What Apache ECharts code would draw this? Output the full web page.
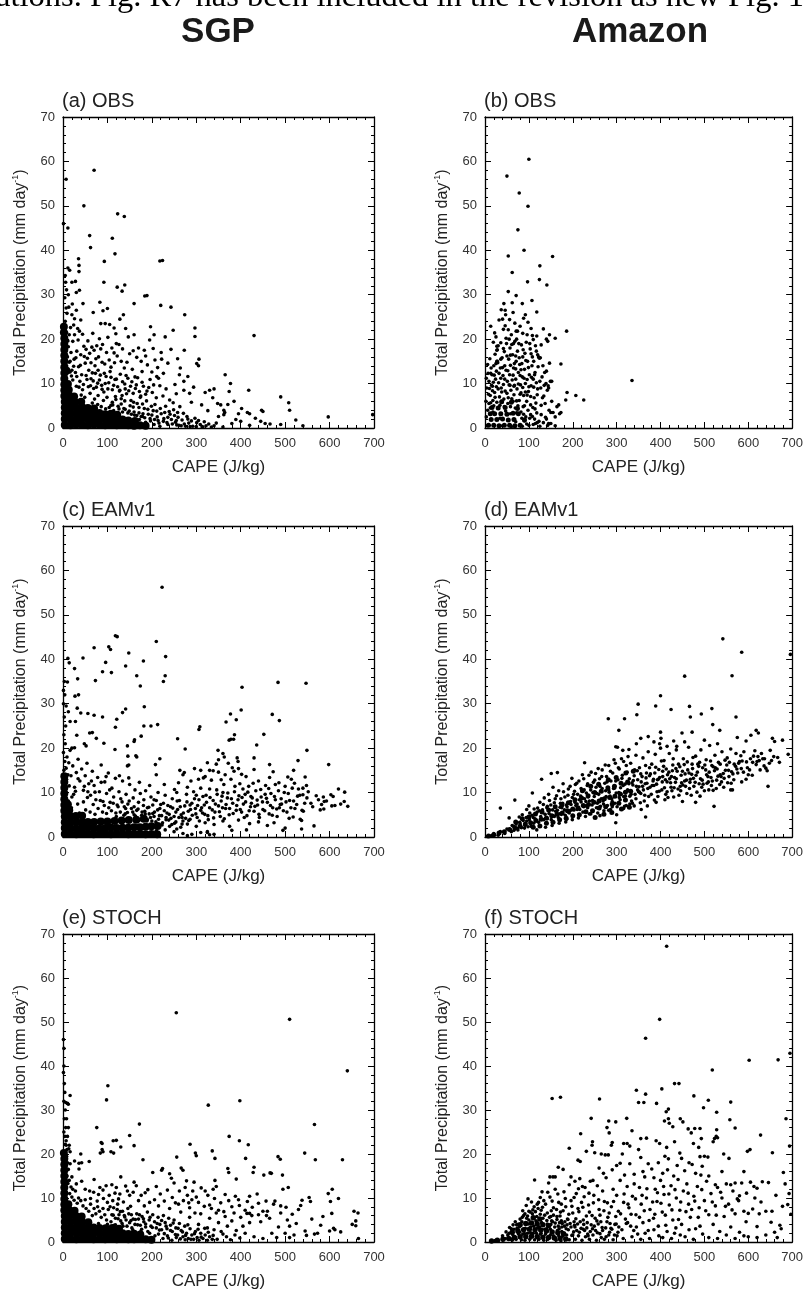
<!DOCTYPE html>
<html>
<head>
<meta charset="utf-8">
<script src="https://cdn.jsdelivr.net/npm/echarts@6.0.0/dist/echarts.min.js"></script>
<style>
  html, body { margin: 0; padding: 0; background: #fff; }
  #chart { width: 806px; height: 1291px; }
</style>
</head>
<body>
<div id="chart"></div>
<script>
// axis ranges shared by all six panels
const capeRange = [0, 700];
const precipRange = [0, 70];
const panelTitles = ["(a) OBS", "(b) OBS", "(c) EAMv1", "(d) EAMv1", "(e) STOCH", "(f) STOCH"];
const columnTitles = ["SGP", "Amazon"];

// (a) SGP OBS — "core" marks the spots where the cloud is solid black
const sgpObsCore = [
  [4,0.7],[17,0.6],[30,0.8],[43,0.7],[56,0.6],[69,0.8],[82,0.7],[95,0.6],[108,0.7],[121,0.6],[134,0.7],[147,0.6],[160,0.5],[173,0.6],[186,0.5],
  [4,2],[17,2.1],[30,1.9],[43,2.1],[56,2],[69,1.9],[82,2.1],[95,1.9],[108,2],[121,1.8],[134,1.9],[147,1.7],[162,1.6],
  [4,3.3],[17,3.4],[30,3.2],[43,3.4],[56,3.3],[69,3.2],[82,3.4],[95,3.1],[108,3.2],[122,3],
  [4,4.6],[17,4.7],[30,4.5],[43,4.7],[56,4.5],[70,4.4],
  [4,5.9],[16,6],[28,5.8],[41,5.9],[3,7.2],[14,7.3],[25,7.1],[3,8.5],[13,8.6],[3,9.8],[11,9.9],
  [3,11.1],[3,12.4],[8,12.9],[3,13.7],[3,15],[3,16.3],[3,17.6],[3,18.9],[3,20.2],[2,21.5],[2,22.8]
];
const sgpObsPts = [
  [70,58],[47,50],[7,56],[11,45],[1,46],[123,48.2],[138,47.6],[60,43.3],[62,40.6],[111,42.7],[117,39.2],[93,37.5],[218,37.6],[224,37.7],
  [35,38.1],[36,36.6],[36,35.2],[11,36],[15,35.5],[6,32.8],[20,32.8],[28,33],[37,31],[30,30.5],[12,30],[92,32.8],[122,31.7],[133,30.8],[139,32.2],
  [184,29.7],[189,29.8],[160,28],[83,28.3],[45,28],[220,27.6],[243,27.2],[274,25.5],[68,26],[90,26.4],[100,26.9],[136,25.5],[128,24.5],[30,26.5],[20,25.5],[40,24.3],
  [297,22.5],[297,20.6],[248,22],[230,20.5],[197,22.8],[205,21],[160,21],[147,20.5],[430,20.8],[85,23.5],[95,23.5],[105,23.3],[115,22.5],[120,19],
  [273,17.5],[243,17.7],[221,17],[222,15.5],[306,15.5],[301,14.5],[305,14],[264,13.5],[262,12],[365,12],[377,10],[374,8.2],[272,10.5],[272,8.5],
  [320,8],[330,8.5],[340,8.8],[418,8.5],[285,7.8],[385,6],[348,5.5],[355,5.2],[490,7],[508,5.7],[510,4],[362,4],[364,3.5],[362,3],[415,3.5],[420,3.2],
  [447,4],[450,3.7],[395,3.2],[400,1.5],[445,1.5],[455,1],[597,2.5],[697,3],[490,0.8],[380,1],[340,0.5],[360,0.2],[420,0.6],
  [5,24],[8,21.5],[4,19],[12,18.3],[18,17],[22,19.5],[26,21],[33,22.4],[37,21.8],[10,16],[16,15],[25,15.5],[31,17.3],[40,16.5],[47,18.4],[52,17.7],
  [20,13],[28,12.5],[35,13.8],[42,12],[50,14.6],[55,15.7],[60,16.8],[65,18.2],[70,17.5],[76,18.5],[80,16],[85,17.8],[58,13],[66,12.4],[72,14],[79,13],
  [88,14.8],[93,12.3],[98,17],[104,15.3],[110,18],[116,14.7],[122,16.2],[126,18.8],[131,15],[138,13.5],[144,14.8],[150,16.7],[156,13.2],[162,11.5],
  [170,18],[176,15],[183,17.5],[190,14.2],[195,19.8],[200,12.6],[207,15.3],[213,13.6],[38,10.5],[46,9.8],[54,10.9],[62,9.5],[68,10.6],[75,9.2],
  [82,10.8],[88,8.7],[95,10],[101,8.8],[108,11.4],[114,9.6],[120,11],[128,8.5],[134,10.4],[140,8.8],[146,11.2],[152,9.4],[158,7.8],[165,9.7],
  [172,8.2],[178,10.3],[186,7.6],[193,9.1],[201,8],[210,6.8],[218,9.5],[225,7.2],[232,8.8],[240,6.3],[248,5.7],[255,7.7],[263,4.8],
  [41,7.4],[49,6.9],[61,7.8],[71,6.5],[79,7.3],[91,6.2],[99,6.9],[111,5.8],[119,6.4],[131,5.4],[139,6.1],[151,5],[159,5.8],[171,4.6],[179,5.4],
  [191,4.2],[199,4.9],[211,3.8],[219,4.4],[229,3.5],[241,3.1],[251,2.8],[259,2.4],[271,3.3],[281,2],[289,1.6],[301,1.2],[309,0.8],[322,0.5],
  [86,4.8],[96,4.3],[104,4.6],[114,3.9],[126,4.3],[134,3.6],[146,3.4],[154,3.1],[166,2.8],[176,2.6],[184,2.3],[196,2.1],[206,1.9],[214,1.7],
  [226,1.5],[234,1.2],[246,0.9],[256,0.7],[266,0.5],[276,0.4],[286,0.3],[140,4.2],[160,3.6],[180,3.2],[200,2.9],[172,1.9],[186,1.3],[205,0.8],[218,0.4],
  [236,2.4],[255,1.7],[300,0.3],[315,0.2],[66,5.6],[78,5.3],[108,5.1],[22,10.8],[30,9.4],[16,12.6],[8,14],[6,17.5],[14,21],[24,23.2],[7,27],[4,29.3],
  [112,5.2],[118,7.1],[124,4.9],[131,6.6],[127,8.3],[137,4.4],[143,7.7],[149,3.8],[153,6.2],[158,4.7],[161,2.9],[167,5.5],[171,3.4],[174,6.9],
  [179,2.6],[183,4.4],[188,6.1],[192,3.1],[197,1.6],[203,3.9],[207,5.3],[212,2.5],[216,1.1],[221,3.2],[227,2.1],[231,4.9],[236,0.8],[239,3.7],
  [244,1.9],[249,4.1],[253,1.3],[258,3.5],[261,0.6],[268,1.8],[273,0.9],[279,2.6],[283,1.1],[292,0.4],[297,2.2],[305,1.7],[313,0.3],[318,1.4],
  [328,0.9],[334,0.2],[345,1.1],[44,8.6],[52,11.8],[57,9.3],[63,11.1],[69,8.9],[73,12.3],[78,10.1],[84,11.9],[87,9.6],[92,8.1],[97,11.6],
  [103,10.2],[106,12.7],[111,8.6],[117,10.9],[123,9.3],[129,12.1],[133,7.3],[139,9.9],[142,11.8],[148,8.4],[155,10.4],[163,8.9],[168,11.3],
  [175,7.2],[181,9.4],[189,8.3],[196,10.9],[204,9.7],[211,11.6],[31,11.6],[36,9.2],[24,13.9],[29,15.8],[19,11.7],[14,14.8],[11,19.6],[17,22.6],
  [9,25.8],[21,27.9],[8,31.1],[5,34.3],[13,27.2],[26,24.6],[34,19.8],[44,21.1],[39,14.1],[48,16.1],[56,19.6],[63,14.7],[67,21.3],[74,15.6],
  [82,20.1],[89,18.8],[94,14.4],[101,20.4],[108,13.7],[115,16.9],[119,21.2],[134,17.8],[141,22.4],[158,17.4],[166,15.9],[178,12.7],[186,16.2],
  [203,17.9],[215,11.2],[226,12.3],[236,14.6],[252,9.8],[258,15.6],[281,11.6],[289,5.8],[294,9.2],[312,5.2],[326,3.9],[337,6.8],[350,2.6],
  [371,5.3],[389,1.9],[402,4.4],[433,2.2],[466,0.9],[524,1.8],[540,0.5]
];

// (b) Amazon OBS
const amzObsCore = [
  [8,0.6],[20,0.6],[32,0.5],[44,0.6],[56,0.6],[68,0.5],[80,0.6],[14,1.9],[27,1.9],[40,2],[53,1.8],[66,1.9],[22,3.2],[36,3.2],[50,3.1],[64,3.3],
  [30,4.5],[46,4.6],[12,3.2],[76,3.2],[90,1.8],[60,5.8],[16,4.6],[74,4.4],[38,5.9]
];
const amzObsPts = [
  [100,60.5],[50,56.7],[78,52.9],[98,49.9],[75,44.6],[89,40],[53,38.7],[154,38.6],[62,35],[125,36.5],[124,33.4],[97,32.9],[141,32.2],[53,30.7],[107,28.7],
  [43,28],[62,28.2],[85,28],[46,26.5],[47,25.5],[64,26],[92,25.5],[40,24.5],[98,23.8],[13,22.9],[42,22.2],[46,23],[71,21.8],[74,21.8],[86,21.3],
  [108,20.8],[118,20.7],[140,20],[143,19.5],[147,21],[160,20.2],[186,21.8],[173,14.4],[147,14.6],[335,10.7],[187,8],[207,7.3],[225,6.3],[184,6.3],
  [168,5.2],[173,3.5],[150,3.5],[152,10.5],[145,9],[140,12.8],[122,16],[126,15.8],[113,12],[13,12.3],[17,9.4],[25,20.5],[27,18.4],[27,17.5],[28,15],
  [25,14.5],[164,4.8],[140,2],[145,1],[160,0.5],
  [5,0.5],[3,2.5],[6,4],[2,6],[9,5.5],[12,7.3],[15,9.6],[18,6.2],[22,8],[24,11],[26,12.8],[29,14.7],[31,10.2],[33,7],[35,13.5],[37,9],[39,15.8],
  [41,11.8],[43,6.5],[44,17.2],[46,8.3],[48,13],[49,19],[51,10.5],[53,6.8],[54,15.5],[56,12],[57,18],[59,8.5],[60,21],[62,10.8],[63,16.5],[65,13.5],
  [66,7.5],[68,19.5],[70,11],[71,15],[73,8.8],[74,17.3],[76,12.5],[78,6.2],[79,14.3],[81,9.7],[83,18.7],[85,11.5],[86,16],[88,7.3],[90,13.2],[92,10],
  [94,19.3],[95,6],[97,15],[99,8.2],[101,12],[103,17.8],[105,9.5],[107,14],[110,11],[112,6.8],[115,18.5],[117,10.2],[119,7.5],[121,13.8],[124,15.7],
  [127,9],[130,11.5],[134,7.2],[137,5.5],[142,8.5],[146,4],[155,3.5],[12,4.5],[18,3.6],[27,5.8],[34,2.2],[42,9.8],[47,3.8],[52,5.5],[58,3.2],
  [64,6],[69,4.5],[75,5],[82,3.6],[87,4.8],[93,2.5],[98,4],[104,3],[109,4.6],[113,2],[118,3.4],[123,1.5],[128,3],[133,1.2],[138,2.4],[143,0.6],
  [150,1],[20,14],[16,12],[30,18.5],[36,19.2],[23,16.6],[9,10.5],[14,13.5],[4,9],[7,12.3],[27,15],[28,17.6],[45,14],[50,16.2],[55,20],[61,18.8],
  [67,14.5],[72,20],[77,19],[84,14.5],[91,16.8],[96,21],[102,19],[108,16],[111,15],[114,12.5],[120,16.5],[125,10.5],[132,14],[136,12.5],[139,10],
  [144,9.5],[149,10.5],[152,6],[160,2.5],[170,3.2],[40,0.5],[60,0.3],[85,0.4],[100,0.6],[110,0.8],[125,0.4],[90,1.6],[102,2.2],[115,1],[72,3.4],
  [38,6],[20,5],[58,4.8],[84,2.2],[95,0.9],[70,1.4],[57,9.6],[36,11.2],[44,4.8],[66,9.4],[80,7.6],[90,5],
  [8,7.6],[13,5.7],[17,8.4],[21,11.9],[26,9.3],[32,12.3],[34,5.1],[38,8.1],[40,13.6],[45,11],[50,7.8],[52,12.9],[55,9.7],[58,14.1],[61,6.6],
  [64,11.9],[67,9.6],[70,13.3],[72,6.1],[76,9.9],[80,11.8],[82,7.9],[86,9.1],[89,11.2],[92,8.1],[96,10.9],[100,9.3],[104,7.1],[106,11.4],[111,9.2],
  [116,5.6],[120,8.8],[104,5.2],[96,7.4],[88,3.1],[108,2.6],[114,4.3],[119,1.2],[128,5.1],[131,6.8],[135,9.6],[10,8.9],[19,10.3],[23,6.9],[30,8.8],
  [36,15.5],[42,17.9],[48,20.2],[53,22.1],[58,16.4],[65,19],[70,16.2],[78,15.8],[82,13.1],[87,17.6],[93,15.2],[99,13.6],[105,16.7],[110,19.9],
  [117,17.3],[3,11.2],[6,14.3],[11,15.6],[19,19.3],[22,21.4],[32,24.3],[37,26.6],[56,24.4],[68,23.6],[80,22.9],[88,24.7],[105,22.4],[128,18.7],
  [133,22.3],[118,26.1],[71,29.8]
];

// (c) SGP EAMv1
const sgpEamCore = [
  [4,0.7],[17,0.7],[30,0.6],[43,0.7],[56,0.7],[69,0.6],[82,0.7],[95,0.7],[108,0.6],[121,0.7],[134,0.7],[147,0.6],[160,0.7],[173,0.7],[186,0.6],[199,0.7],[212,0.6],
  [4,2],[17,2],[30,1.9],[43,2],[56,2.1],[69,2],[82,1.9],[95,2],[108,2.1],[121,2],[134,2.1],[147,2.1],[160,2.2],[173,2.2],[186,2.3],[199,2.4],[213,2.5],
  [4,3.3],[17,3.3],[30,3.4],[43,3.3],[56,3.4],[70,3.4],[85,3.5],[100,3.5],[116,3.6],[132,3.7],[148,3.8],[165,3.9],[182,4.1],
  [4,4.6],[16,4.7],[29,4.7],[43,4.8],[3,5.9],[14,6],[3,7.2],[11,7.3],[3,8.5],[3,9.8],[3,11.1],[3,12.4],[3,13.7]
];
const sgpEamPts = [
  [223,56.2],[118,45.3],[122,45.1],[210,44],[70,42.6],[103,42.8],[107,42.2],[148,41.4],[231,40.6],[45,40.3],[11,40.2],[14,39.2],[96,39.3],[181,39.6],
  [26,37.9],[89,37.2],[109,37],[141,38.5],[166,36.3],[230,36.3],[226,35],[73,35.2],[33,35.6],[3,35],[10,34.9],[1,33],[174,34],[403,33.7],[484,34.8],
  [547,34.6],[27,31.7],[35,32],[183,29.3],[401,28.6],[12,28.2],[7,29.5],[32,29],[141,28.8],[134,28],[56,27.8],[70,27.4],[89,27],[40,27.9],[471,27.6],
  [377,27.7],[390,26.4],[487,26.2],[367,25.9],[118,24.7],[121,26.5],[28,26],[16,26],[308,24.8],[306,24.2],[182,25],[198,25],[213,25.3],[60,23.4],
  [66,23.5],[452,23.1],[386,23],[384,22],[31,22.9],[176,22.7],[75,22.2],[258,22.1],[161,21.9],[160,21.5],[374,21.8],[378,22],[92,21.1],[52,20.5],
  [48,21],[436,20.7],[145,20.5],[26,20.1],[20,20],[117,19.7],[275,19.8],[549,19.5],[349,19.5],[360,18.8],[363,18],[146,18.2],[164,18.3],[166,18],
  [218,17.6],[392,17.8],[394,17],[430,17.8],[529,17.2],[350,17.4],[598,16.3],[465,16.3],[208,16.3],[210,14],[145,16],[148,16.2],[325,16.7],[330,15],
  [263,15],[273,14.5],[270,14],[430,15.2],[519,15],[473,14.7],[506,13.5],[514,13],[545,13.5],[296,15.4],[310,15],[586,9],[588,8],[603,9.5],[608,9.1],
  [620,10.8],[633,8],[641,6.9],[612,7.1],[605,7],[587,6.3],[582,7.3],[565,2.5],[537,1.8],[537,3.7],[538,6],[540,9.5],[540,11],[548,11.6],[500,2],
  [495,1.5],[509,4.2],[518,4.5],[489,7.3],[487,6.6],[413,1.6],[380,1.5],[330,0.5],[325,1],
  [2,15],[4,17],[1,19],[5,21],[2,23],[6,25],[3,27],[1,30],[4,32],[7,15.5],[9,18],[11,14],[13,16.7],[16,19.5],[8,13],[14,11.5],[18,13.8],[22,16],
  [20,9],[26,11.2],[30,14.5],[34,17.5],[38,12.6],[42,15.3],[46,10.5],[50,13.8],[54,16.6],[58,12],[62,9.4],[66,14.8],[70,11.6],[74,8.4],[78,13.4],
  [82,10.2],[86,16.2],[90,8],[94,12.4],[98,9.8],[102,14.4],[106,7.8],[110,11],[114,9],[118,13.2],[122,7.2],[126,10.2],[130,8.6],[134,12.6],[138,6.8],
  [142,9.6],[146,7.4],[150,11.8],[154,6.4],[158,8.8],[162,10.6],[166,6],[170,7.8],[174,9.8],[178,5.6],[182,8.4],[186,10.4],[190,6.6],[194,5.2],
  [198,9],[202,7.2],[206,5.6],[210,8.2],[214,10],[218,6.4],[222,4.8],[226,7.6],[230,9.4],[234,5.4],[238,3.8],[242,6.8],[246,8.6],[250,4.6],[254,3.4],
  [258,6.2],[262,8.2],[266,5],[270,3.6],[274,7],[278,9.6],[282,5.8],[286,4],[290,7.6],[294,10.2],[298,6.4],[302,4.4],[306,8.4],[310,11],[314,5.4],
  [318,7.2],[322,9.4],[326,4.8],[330,6.6],[334,12.8],[338,8.2],[342,5.6],[346,10.6],[350,7],[354,4.6],[358,9.2],[362,11.8],[366,6.4],[370,8.8],
  [374,5],[378,13],[382,7.6],[386,10.2],[390,6],[394,8.4],[398,12],[402,5.6],[406,7.4],[410,9.6],[414,4.8],[418,11.4],[422,6.8],[426,8.8],[430,5.8],
  [434,10.4],[438,7.2],[442,4.4],[446,9],[450,6.2],[456,11.6],[460,7.8],[464,5.2],[468,9.8],[472,6.6],[478,8.4],[482,4.6],[486,12.2],[492,7.4],
  [498,10],[504,5.6],[510,8.2],[516,11],[522,6.4],[528,9.2],[534,4],[544,7.6],[552,10.2],[562,6.8],[575,8.4],[120,4.6],[140,5.2],[160,5],[200,3.6],
  [215,4],[245,2.8],[265,2.2],[280,2.9],[300,2.4],[320,3.2],[340,2.8],[360,3.6],[375,2.4],[395,3.8],[420,3],[440,3.4],[460,2.6],[475,3.2],[230,1.6],
  [250,1.2],[270,0.8],[290,0.6],[310,1],[340,0.6],[280,0.3],[325,1.2],[240,2.4],[256,1.8],[176,1.2],[210,1.4],[160,6.8],[185,5.2],[300,9.4],[280,11.2],
  [260,12.2],[320,13.6],[350,14.6],[372,16.6],[395,15.4],[412,13.6],[440,12.6],[465,13.4],[500,11.4],[530,10.8],[360,10],[330,10.8],[286,7.2],
  [256,10],[310,6],[305,13],[345,16.4],[365,14],[385,14.8],[405,10.8],[224,3.2],[190,3.9],[205,4.6],[232,4.4],[268,4.4],
  [152,3.9],[157,5.6],[163,4.7],[169,6.3],[172,3.8],[177,4.9],[181,7.1],[184,5.8],[189,3.6],[193,6.7],[197,4.4],[202,5.3],[205,8.4],[209,3.4],
  [213,6.1],[217,4.8],[220,7.3],[223,2.7],[228,5.9],[232,3.9],[236,7.1],[239,5.1],[243,4.2],[247,6.5],[251,3.1],[254,5.6],[257,8.1],[261,4.4],
  [264,6.8],[268,2.9],[271,5.4],[276,4.2],[279,7.9],[283,3.7],[287,6.2],[291,4.9],[296,8.6],[299,5.2],[303,7.1],[307,3.6],[312,6.6],[315,9.1],
  [319,5.1],[323,7.8],[327,3.9],[331,8.9],[336,6.1],[339,4.3],[343,7.4],[347,9.6],[352,5.7],[356,8.1],[359,6.6],[363,4.1],[367,7.3],[371,9.9],
  [375,6.4],[379,8.6],[383,5.3],[387,11.4],[391,7.1],[396,9.3],[399,6.2],[403,8.9],[408,4.4],[411,7.9],[416,10.1],[419,5.9],[424,7.6],[428,12.1],
  [432,6.9],[437,8.3],[441,5.1],[445,10.7],[449,7.9],[454,5.9],[458,8.7],[463,10.9],[467,7.1],[471,4.9],[476,9.1],[481,6.3],[485,10.4],[491,8.6],
  [496,5.9],[502,7.9],[507,9.8],[513,6.6],[519,8.1],[526,7.3],[533,9.4],[541,5.8],[549,8.8],[558,7.6],[570,9.3],[579,6.1],[593,8.1],[625,7.4],
  [634,10.1],[12,8.1],[19,6.6],[24,9.6],[33,7.4],[37,5.4],[46,7.9],[51,6.1],[55,8.9],[61,5.6],[68,7.3],[72,5.1],[79,6.4],[84,8.2],[89,5.6],[93,7.1],
  [98,5.3],[103,6.6],[109,5.9],[113,7.6],[119,5.4],[124,6.8],[129,5.6],[133,7.9],[137,4.9],[141,6.4],[145,5.5],[149,8.1],[28,10.3],[34,13.1],
  [48,11.4],[56,10.2],[64,12.6],[72,10.1],[86,12.3],[97,13.6],[105,10.6],[127,13.8],[148,13.3],[172,12.3],[195,11.6],[228,11.8],[251,10.7],
  [288,12.6],[316,13.3],[338,14.9],[356,12.9],[381,15.6],[402,14.1],[423,9.1],[455,9.6],[478,11.8],[521,12.1]
];

// (d) Amazon EAMv1 — tight, rising band
const amzEamCore = [
  [8,0.2],[20,0.5],[32,0.9],[44,1.2],[56,1.7],[68,2.1],[80,2.4],[92,2.9],[104,3.2],[116,3.7],[128,4],[140,4.3],[152,4.8],[164,5.1],[176,5.4],
  [188,5.9],[200,6.3],[212,6.6],[224,7.1],[236,7.3],[248,7.8],[260,8.1],[272,8.6],[284,8.9],[296,9.2],[308,9.7],[320,10.1],[332,10.3],
  [70,3.4],[85,4.1],[100,4.5],[115,5.2],[130,5.6],[145,6.1],[160,6.8],[175,7.2],[190,7.7],[205,8.4],[220,8.8],[235,9.3],[250,10],[265,10.3],
  [280,11.1],[295,11.4],[310,12.1],[325,12.4],
  [110,2.2],[125,2.5],[140,3.1],[155,3.3],[170,3.9],[185,4.2],[200,4.8],[215,5],[230,5.7],[245,5.9],[260,6.5],[275,6.8],[290,7.4],[305,7.6],[320,8.3],
  [222,10.4],[241,11.4],[259,11.9],[281,12.9],[299,13.4],[321,14.4],[338,14.8],[251,4.4],[271,5.1],[289,5.5],[311,6.3],[329,6.7]
];
const amzEamPts = [
  [542,44.6],[585,41.6],[696,41.1],[455,36.2],[563,36.3],[400,31.8],[349,29.9],[389,29.5],[466,29.4],[517,28.9],[424,28.7],[493,27.7],[468,27],
  [572,27],[281,26.6],[318,26.6],[346,27.5],[305,24],[519,25.3],[535,24],[449,23.4],[472,23.6],[618,24],[623,23.4],[655,22.2],[678,21.8],[606,22.9],
  [355,22.2],[372,22.6],[401,22.2],[385,21.4],[398,21],[437,20.4],[227,16.7],[151,14.3],[165,14.5],[129,13],[108,9.9],[68,8.3],[35,6.5],[55,4.3],
  [522,6.9],[366,4.5],[645,11.4],[691,18.6],[671,16.8],
  [5,0.1],[15,0.3],[20,0.8],[30,0.4],[35,1.2],[45,0.8],[50,1.8],[60,1.2],[65,2.4],[75,1.6],[80,3],[90,2],[95,3.6],[105,2.4],[110,4.4],[95,6.2],
  [100,7],[85,5],[78,4.5],[120,6.5],[125,7.8],[130,5.5],[135,8.8],[145,9.6],[150,7.2],[155,11.2],[160,8.6],[168,10.4],[172,7.6],[178,12],[182,9],
  [186,4],[190,10.8],[195,8],[198,13.2],[202,9.6],[206,11.8],[210,7.4],[214,12.6],[218,9.2],[222,14],[226,10.6],[230,8],[234,12],[238,5.2],
  [242,14.6],[246,10],[250,12.8],[254,6.6],[258,15.4],[262,11.4],[266,13.6],[270,7.4],[274,16.2],[278,12.4],[282,10.6],[286,14.8],[290,6.8],
  [294,17.4],[298,20.3],[302,20.2],[298,12.6],[304,15.6],[308,8.4],[312,13.2],[314,19.5],[316,17],[320,9.2],[324,14.6],[328,19.7],[328,12],
  [332,16.6],[336,7.6],[340,13.8],[344,18.4],[348,10.6],[352,15.6],[356,12.4],[360,17.8],[364,9.4],[368,14.4],[372,19.2],[376,11.2],[380,16.4],
  [384,13],[388,18.6],[392,10.2],[396,15.2],[400,20],[404,12.4],[408,17.2],[412,9.6],[416,14],[420,18.8],[424,11.2],[428,16.2],[432,13.4],
  [436,19.6],[440,10.8],[444,15.8],[448,12.2],[452,17.6],[456,14.2],[460,9.8],[464,20.2],[468,13],[472,16.4],[476,11.4],[480,18.2],[484,14.6],
  [488,12],[492,19.6],[496,15.6],[500,10.4],[504,17.4],[508,13.6],[512,20.6],[516,11.6],[520,15.8],[524,18.4],[528,12.8],[532,16.8],[536,14],
  [540,19.2],[544,11.2],[548,15],[552,17.8],[556,13.6],[560,19.8],[564,10.6],[568,16.4],[572,18.8],[576,14.4],[580,17],[584,15.4],[590,19.2],
  [595,13],[600,14],[605,17.6],[610,16.8],[615,19.4],[620,17],[625,17.2],[630,18.8],[636,16],[640,15.5],[643,14.9],[650,19.5],[660,21.5],
  [480,7.8],[370,7],[390,7.8],[410,8.4],[430,9],[450,8],[470,9.4],[490,9.2],[510,10.6],[520,10.5],[560,10.6],[430,21.6],[415,20.4],[455,21.4],
  [500,21.8],[530,21],[575,22.4],[595,21.6],[400,23.6],[345,21],
  [155,4.8],[165,6],[175,6.6],[185,7.2],[195,6],[205,7.8],[215,8.4],[225,6.8],[235,9],[245,8.2],[255,9.8],[265,8.6],[275,10.4],[285,9.2],[295,11],
  [305,10],[315,11.6],[325,10.6],[335,12.2],[345,11.4],[355,9.8],[365,12],[375,13.8],[385,11.6],[395,13],[405,14.8],[415,12.4],[425,13.6],
  [435,15.4],[445,11.4],[455,12.6],[465,14.4],[475,13.2],[485,16.4],[495,12.8],[505,14],[515,13.4],[525,15.6],[535,11.8],[545,13.2],[555,15],
  [565,14.2],[585,12.4],[170,5.2],[190,5.6],[210,6.2],[230,7],[250,7.8],[270,8.6],[290,8],[310,9.6],[330,9.2],[350,10.2],[262,4.8],[282,6],
  [300,5],[316,6.4],[340,7],[356,6.2],[298,3.2],
  [334,8.1],[338,12.7],[342,9.6],[347,14.9],[351,11.3],[354,7.7],[358,13.6],[361,10.6],[366,16.1],[369,12.1],[373,9.1],[377,14.2],[381,11.6],
  [386,8.3],[389,15.7],[393,12.9],[397,10.3],[402,17.1],[405,13.6],[409,11.1],[413,15.3],[417,8.9],[421,13.1],[426,10.4],[429,17.6],[434,12.3],
  [438,14.8],[442,9.4],[447,13.9],[451,11.7],[454,16.3],[459,12.8],[462,15.1],[466,10.9],[471,14.1],[474,17.9],[479,12.3],[483,10.1],[487,15.9],
  [491,13.1],[497,11.9],[501,16.2],[506,12.1],[511,14.6],[514,17.1],[518,12.6],[523,14.9],[527,10.9],[531,13.7],[536,16.4],[539,12.4],[543,14.3],
  [547,17.3],[553,12.2],[557,16.8],[562,14.7],[567,12.9],[571,15.9],[578,16.6],[583,18.3],[589,14.6],[596,16.9],[603,15.1],[612,18.2],[618,16.3],
  [627,15.1],[633,17.6],[648,16.6],[658,18.1],[667,17.9],
  [102,5.4],[112,6.3],[118,1.6],[124,5.9],[133,7.3],[138,2.2],[142,6.9],[147,8.2],[153,2.6],[158,7.7],[163,9.3],[169,3.1],[173,8.6],[179,10.2],
  [184,3.4],[189,9.4],[194,11.4],[199,3.9],[204,10.3],[209,12.1],[213,4.3],[219,10.9],[225,13.1],[229,4.6],[233,11.6],[237,13.9],[241,5.2],
  [247,12.3],[252,14.3],[257,5.4],[261,13.1],[267,15.1],[271,5.9],[277,13.6],[282,16.1],[286,6.2],[291,14.4],[297,16.6],[301,6.8],[306,15.3],
  [311,17.6],[318,6.9],[322,16.1],[326,18.1],[330,7.4],
  [142,4.1],[146,5.3],[151,3.9],[154,6.1],[158,4.6],[161,5.8],[167,4.4],[171,6.7],[174,5.1],[177,7.6],[181,6.1],[183,4.9],[187,6.8],[192,5.4],
  [196,7.3],[199,8.9],[203,6.1],[207,7.1],[211,9.6],[216,6.2],[219,7.9],[223,5.6],[227,8.6],[231,9.9],[234,6.6],[238,8.1],[241,10.6],[244,7.2],
  [249,9.1],[253,11.2],[256,7.6],[259,9.6],[263,6.9],[267,10.9],[269,8.1],[273,12.1],[276,9.1],[279,7.1],[283,10.1],[287,12.6],[289,8.6],
  [293,10.9],[296,7.6],[299,9.9],[303,12.9],[306,8.9],[309,11.1],[313,13.9],[316,9.1],[319,11.9],[322,7.1],[326,10.4],[329,13.1],[333,9.6],
  [337,11.7],[341,15.1],[344,8.6],[348,12.9],[352,10.1],[355,14.2],[359,11.4],[363,8.1],[367,13.3],[371,10.9],[375,15.6],[379,9.6],[383,12.6],
  [387,14.4],[391,11.9],[394,9.1],[398,13.4],[403,10.6],[407,15.9],[411,12.9],[415,10.2],[419,14.6],[423,12.2],[427,14.9],[431,11.1],[436,13.1],
  [441,16.4],[446,10.4],[450,14.8],[457,11.4],[461,16.9],[467,12.3],[473,15.4],[481,13.9],[489,16.8],[494,11.2],[503,15.1],[509,12.4],[517,16.1],
  [529,15.3],[538,13.6],[551,16.2],[561,12.1],[574,15.3],[586,17.1],[598,15.6],[609,13.9],[622,18.1],[637,17.6],[653,17.2],
  [62,2.6],[66,1.5],[71,2.9],[74,1.9],[79,3.3],[83,2.1],[87,3.7],[91,2.6],[94,4.4],[98,2.3],[101,3.9],[107,4.9],[111,3.1],[114,4.1],[119,5.6],
  [122,3.3],[127,4.6],[131,6.1],[134,3.9],[137,5.1],[141,6.6]
];

// (e) SGP STOCH
const sgpStoCore = [
  [4,0.7],[17,0.7],[30,0.6],[43,0.7],[56,0.7],[69,0.6],[82,0.7],[95,0.6],[108,0.7],[121,0.6],[134,0.7],[147,0.6],[160,0.6],[173,0.7],[186,0.6],[199,0.5],
  [4,2],[17,2],[30,2.1],[43,2],[56,1.9],[69,2],[82,2.1],[95,1.9],[108,2],[121,1.9],[134,2],[147,1.8],[160,1.9],[174,1.7],
  [4,3.3],[17,3.3],[30,3.4],[43,3.3],[56,3.2],[69,3.3],[82,3.2],[96,3.1],[111,3.2],[126,3],
  [4,4.6],[17,4.6],[30,4.7],[43,4.5],[57,4.5],[4,5.9],[16,6],[29,5.9],[42,5.8],[3,7.2],[14,7.3],[26,7.1],[3,8.5],[12,8.6],
  [3,9.8],[3,11.1],[3,12.4],[3,13.7],[3,15],[3,16.3],[3,17.6],[3,18.9],[2,20.2]
];
const sgpStoPts = [
  [255,52.1],[510,50.6],[640,38.9],[101,35.5],[98,32.3],[398,32.1],[327,31.1],[16,33.3],[10,31.5],[12,31.3],[6,31.7],[566,26.7],[172,26.8],[76,26],
  [374,24],[150,24.2],[397,23],[86,22.6],[88,22.4],[113,23],[120,23.1],[417,22.1],[286,22.2],[160,21.9],[7,22],[14,22],[13,21.2],[16,20.5],[88,21],
  [84,20.2],[90,20.5],[108,20.5],[114,20.2],[40,20],[130,21.6],[544,20.2],[484,19.4],[489,18.8],[298,20.2],[300,19.6],[256,19.3],[336,20.7],
  [411,19],[568,18.7],[629,18.7],[180,18.7],[59,18.3],[36,17.9],[42,18],[342,19],[224,16.7],[222,16.3],[266,16.8],[270,16.3],[371,16.7],
  [373,15.8],[430,17],[428,15.8],[452,15.2],[469,15.6],[494,15.2],[202,15.8],[240,15.5],[244,14.5],[342,14],[338,12],[390,14.3],[495,12],
  [507,12.4],[606,12],[597,11],[602,9.2],[620,9.9],[538,9.5],[554,10.1],[557,9.2],[477,9.3],[490,8.2],[502,7.9],[466,15.7],[655,7],[664,6.6],
  [651,4],[659,4.8],[659,3.7],[625,2.3],[600,2.5],[609,3.1],[612,2.8],[585,5.8],[605,6.5],[545,2.5],[548,1.5],[566,1.8],[573,2],[481,1],[500,2],
  [510,1],[520,1.6],[665,0.8],[450,7],[458,6],[420,6.5],[414,6.5],
  [1,46],[2,44],[2,40],[1,38.5],[3,36],[4,34],[2,32],[5,30],[3,28],[6,26],[2,25],[4,24],[7,23],[5,22.2],[9,21],[8,19.5],[10,18],[6,17],[12,16.5],
  [9,15],[14,14],[11,13.3],[18,12.5],[15,11],[20,10.2],[22,12],[25,9.5],[28,11.6],[32,8.8],[35,10],[40,9.4],[45,8.2],[50,9.6],[52,7.6],[58,7],
  [62,8.6],[66,6],[70,7.6],[74,6.4],[78,8],[82,7],[86,5.6],[90,7.6],[94,6.2],[98,5],[102,7.4],[106,8],[110,6.2],[114,7.8],[118,5.4],[122,7.4],
  [126,6.2],[130,4.8],[134,7],[138,6],[142,5],[146,7.6],[150,4.4],[154,6.2],[158,5.2],[162,4],[166,6.4],[170,5.2],[174,3.8],[178,5.8],[182,4.6],
  [186,3.4],[190,6.8],[194,5],[198,3.6],[202,6.2],[206,4.6],[210,3.2],[214,5.6],[218,4],[222,2.8],[226,6],[230,4.4],[234,3],[238,5.4],[242,3.8],
  [246,2.4],[250,5],[254,3.2],[258,1.6],[262,4.2],[266,2.6],[270,1.2],[274,3.6],[278,2],[282,0.8],[286,3],[290,1.6],[294,0.6],[298,2.4],[302,1],
  [306,0.4],[310,2],[315,0.8],[320,1.6],[325,0.4],[330,1.2],[336,0.6],[60,4.6],[80,4.2],[100,4],[115,3.8],[135,3.6],[155,3.2],[175,2.4],[195,2],
  [215,1.8],[235,1.4],[255,1],[275,0.5],[200,0.6],[225,0.8],[245,0.4],[100,9],[125,9.8],[150,10.6],[170,9.4],[195,9],[215,8.2],[240,7.6],[260,8.6],
  [285,7.8],[305,9],[330,8.4],[350,7.2],[380,8],[410,7.2],[120,12.4],[145,11.6],[165,12.8],[185,11.2],[210,12.6],[235,11.8],[250,13.4],[275,12.4],
  [295,13.6],[320,11.6],[345,12.6],[365,10.8],[395,9.6],[420,10.4],[440,8.8],[460,7],[300,10.2],[290,9.6],[280,10.6],[310,6.4],[330,5.4],[350,4.4],
  [370,3.6],[390,2.6],[410,2],[430,1.2],[450,0.8],[340,2.8],[360,1.8],[380,4.8],[400,5.6],[420,4.4],[440,6.2],[265,6.8],[285,5.6],[305,4],[325,3.2],
  [345,6.6],[365,5.8],[385,6.6],[405,3.6],[425,6],[445,4.6],[465,5.4],[485,3.4],[505,5],[525,4.2],[470,2],[490,6.6],[510,3.6],[530,7.4],[560,5.2],
  [580,3.8],[50,12],[70,14.2],[90,11.8],[110,13],[130,14.8],[160,13.6],[80,10.8],[60,11.6],[42,13.8],[36,16.6],[20,14.8],[30,13.2],[16,17.8],
  [26,18.4],[10,24],[12,26],[8,28],
  [108,4.6],[113,6.1],[118,3.9],[124,5.3],[129,6.9],[133,4.2],[139,5.7],[144,3.6],[148,6.4],[153,4.9],[157,2.8],[163,5.1],[168,3.9],[172,6.2],
  [177,2.9],[181,5.3],[186,4.1],[191,2.4],[196,5.6],[201,3.3],[207,1.4],[212,4.2],[217,2.7],[222,4.9],[228,1.9],[232,3.6],[237,0.9],[242,2.6],
  [248,4.3],[253,1.7],[259,3.1],[264,0.7],[269,2.3],[276,1.5],[281,3.9],[288,0.6],[296,1.9],[304,2.9],[311,1.1],[319,3.1],[327,2.2],[338,1.5],
  [347,0.6],[356,2.4],[368,1.2],[377,0.5],[387,1.6],[398,0.9],[62,9.9],[69,11.3],[77,9.3],[83,12.4],[91,9.9],[97,12.8],[104,10.6],[112,9.4],
  [117,11.1],[123,8.6],[128,10.9],[136,9.1],[141,12.7],[152,8.1],[158,11.3],[176,10.6],[183,8.2],[191,11.9],[206,9.6],[219,10.9],[228,9.3],
  [246,10.1],[253,8.9],[262,11.6],[271,9.4],[278,13.9],[283,8.9],[292,11.6],[297,6.6],[311,12.3],[318,8.1],[326,10.6],[334,7.6],[341,9.9],
  [355,8.9],[362,6.9],[373,9.4],[388,10.4],[397,8.3],[415,9.2],[426,7.9],[437,10.9],[457,9.3],[474,8.6],[516,6.3],[535,8.3]
];

// (f) Amazon STOCH — widening fan
const amzStoCore = [
  [15,0.2],[28,0.4],[41,0.6],[54,0.8],[67,1],[80,1.2],[93,1.2],[106,1.3],[119,1.2],[132,1.1],[145,1],[158,0.9],[171,0.8],[184,0.7],
  [62,2.2],[75,2.5],[88,2.8],[101,2.9],[114,2.8],[127,2.7],[140,2.5],[153,2.3],[166,2.1],[179,1.9],
  [80,3.9],[93,4.2],[106,4.3],[119,4.1],[132,3.9],[145,3.7],[110,5.5],[125,5.2]
];
const amzStoPts = [
  [414,67.2],[398,50.6],[366,46.3],[602,41.3],[668,41.4],[695,42.9],[518,39.1],[432,36],[442,36],[403,34.8],[345,34.5],[366,33.6],[476,33.2],
  [153,32.6],[172,32.9],[261,32.5],[509,32.2],[350,31.7],[362,31.7],[391,31.5],[560,31.8],[413,29.6],[418,30.2],[498,30.5],[528,29.5],[323,28.1],
  [242,28.1],[409,27.5],[418,28],[420,27],[428,26.2],[445,28],[451,27.3],[686,28],[558,27.8],[282,27.5],[298,27.3],[278,26],[283,24.8],[335,25.3],
  [463,25.7],[478,25.8],[470,24.8],[490,25.8],[528,25.5],[527,24],[530,23.7],[570,25.9],[628,24.3],[218,24.6],
  [40,1.4],[55,2],[60,3],[75,4],[80,5.2],[88,6],[95,5.4],[100,7],[108,6.4],[112,8],[118,5.8],[122,9],[128,7.2],[132,5.4],[138,8.6],[142,6.6],
  [148,10.2],[152,4.8],[156,7.8],[160,12],[164,5.8],[168,9],[172,6.8],[176,4.2],[180,11.4],[184,8],[188,5.2],[192,13],[196,9.4],[200,6.6],[204,3.8],
  [208,11],[212,7.6],[216,14.4],[220,9],[224,5],[228,12.4],[232,3.2],[236,8.4],[240,13.8],[244,6],[248,10.6],[252,2.6],[256,12.8],[260,7.4],
  [264,4.6],[268,11.6],[272,9.2],[276,14.6],[280,5.6],[284,2.2],[288,8],[292,12],[296,4],[300,10.6],[304,7],[308,14],[312,2.8],[316,9],[320,5.2],
  [324,12.6],[328,7.8],[332,3.6],[336,10.4],[340,15.4],[344,6.2],[348,1.8],[352,12.4],[356,8.6],[360,4.4],[364,14.8],[368,10],[372,2.6],[376,7.4],
  [380,16.6],[384,5.4],[388,12],[392,9.2],[396,1.4],[400,14],[404,6.8],[408,10.8],[412,3.8],[416,16.4],[420,8.4],[424,12.8],[428,5],[432,2],
  [436,10],[440,14.2],[444,7.2],[448,4],[452,11.6],[456,1.2],[460,13.2],[464,8.6],[468,5.6],[472,17.6],[476,10.4],[480,3],[484,12.6],[488,7.8],
  [492,15.2],[496,1.8],[500,9.4],[505,13.8],[510,6.2],[515,11],[520,4],[525,8.2],[530,12.4],[535,2.4],[540,10],[545,5.8],[550,13.2],[555,8.6],
  [560,3.4],[565,11.6],[570,6.4],[575,9.8],[580,2.2],[585,13.4],[590,7],[595,4.6],[600,1.2],[605,13.6],[610,7.5],[615,10],[620,1],[625,6.4],
  [632,13.7],[640,1.6],[646,13.5],[652,4.5],[654,7],[660,2.2],[666,1],[672,3.8],[680,15.8],[684,13.2],[690,8.5],[693,11],[697,6.3],[675,3],
  [640,7],[560,13],[580,10.5],[600,6.5],[620,3.5],[110,2],[120,3.2],[150,4],[165,2.6],[175,3.4],[190,2.8],[200,1.6],[205,3.4],[215,2.2],[225,4],
  [235,1.4],[245,3],[255,4.8],[265,1],[275,3.2],[285,4.2],[295,1.6],[305,3.4],[315,0.8],[325,4.4],[335,1.2],[345,3.4],[355,0.6],[365,2],[375,0.8],
  [385,2.8],[395,3.6],[405,1],[415,2.4],[425,0.8],[435,3.2],[445,1.6],[465,2.8],[475,0.6],[490,3.6],[510,1],[530,0.8],[550,1.6],[570,0.8],[590,1.4],
  [130,11.4],[145,13.4],[155,14.8],[148,14.8],[160,14.8],[167,17],[178,16.5],[113,14.1],[98,9.8],[212,18.6],[217,18.3],[192,21.3],[231,20.6],
  [250,20.3],[265,20],[274,19.8],[281,19.8],[313,20],[308,17.9],[350,21],[355,19.2],[410,19.5],[418,18.9],[444,20.2],[448,19],[490,19.4],[500,19.5],
  [508,19.3],[544,20],[556,19],[598,20.6],[604,21],[655,20.3],[694,21.8],[196,14.8],[205,13.8],[222,12.6],[246,14],[260,16.8],[270,15.6],[290,16.4],
  [300,17.4],[318,15.2],[330,17.8],[340,13.2],[360,16],[372,17.8],[385,14.6],[395,18],[405,15.6],[430,15],[438,17.4],[455,16.2],[465,18],[480,15.6],
  [495,17.2],[510,15],[525,13],[540,16],[570,13.4],[590,16],[620,12.2],[244,22],[290,22.6],[288,22],[245,22.8],[316,22.4],[324,22.4],[330,21.8],
  [355,23.5],[368,23.6],[390,23],[398,22.4],[432,22.8],[414,21.5],[520,22.8],[523,23.5],[475,22.4],[487,21.5],[493,23.5],
  [62,0.4],[90,1.9],[104,3.4],[126,1.8],[140,3],[150,5.8],[170,4.4],[185,3],[118,4.6],[78,3.4],[45,0.8],[30,0.2],[100,5],
  [48,2.3],[56,3.3],[64,3.9],[69,4.6],[73,3.1],[85,5.6],[91,6.4],[97,5.9],[103,6.8],[109,7.3],[115,6.9],[121,7.6],[126,6.3],[131,7.9],[136,6.1],
  [141,4.9],[147,5.6],[151,7.1],[156,6.1],[160,4.3],[163,7.4],[167,3.6],[171,5.9],[175,2.4],[178,7.1],[182,4.6],[187,3.9],[191,6.3],[194,4.2],
  [198,8.1],[202,2.3],[207,5.3],[211,4.1],[214,6.9],[219,3.1],[223,7.9],[227,2.6],[231,5.9],[234,1.8],[238,6.8],[242,3.9],[247,8.9],[251,5.4],
  [256,2.1],[259,9.6],[262,6.1],[267,3.3],[271,7.1],[276,1.2],[279,8.9],[283,6.6],[287,3.1],[293,9.2],[298,5.8],[303,2.2],[309,6.4],[317,10.9],
  [322,4.2],[326,8.6],[333,6.3],[339,2.6],[343,9.8],[352,5.6],[358,10.6],[363,7.1],[369,12.1],[374,4.9],[382,9.1],[387,6.3],[393,11.2],[401,8.8],
  [407,12.6],[411,6.1],[419,10.9],[426,7.3],[433,11.9],[441,5.1],[446,9.1],[458,6.9],[463,11.1],[471,7.4],[478,9.3],[486,5.6],[494,11.9],[503,7.1],
  [518,9.1],[527,6.1],[537,11.3],[548,8.1],[563,7.3],[578,9.4],[596,11.1],[613,12.6],[629,9.1],[663,10.6],[678,8.1],
  [52,1.6],[58,0.7],[63,1.7],[71,0.6],[76,1.9],[83,0.5],[86,1.8],[91,0.4],[97,2],[102,0.6],[107,1.9],[113,0.5],[117,2],[123,0.6],[128,2],[134,0.4],
  [138,1.8],[143,0.6],[149,1.6],[156,1.4],[162,0.4],[168,1.4],[173,0.3],[177,1.3],[186,1.6],[192,0.5],[198,1.5],[206,0.6],[213,1.4],[221,0.4],
  [229,1.2],[238,0.6],[246,1.6],[254,0.4],[262,1.9],[272,0.6],[282,1.6],[292,0.5],[301,1.4],[66,2.9],[72,3.9],[79,2.2],[84,4.6],[92,3.1],[99,4.1],
  [104,2.1],[111,3.6],[116,4.8],[124,3.4],[129,4.4],[136,2.9],[142,4.1],[149,2.9],[154,4.6],[159,3.4],[164,5.1],[169,3],[174,4.8],[181,3.6],
  [189,5.1],[196,3.4],[203,4.6],[209,2.6],[217,4.6],[224,2.9],[233,4.4],[240,2.4],[249,3.6],[258,4.1],[268,2.6],[278,4.6],[289,2.9],[299,4.1],
  [86,7.1],[94,8.3],[106,9.1],[119,8.6],[126,10.1],[134,9.4],[143,11.3],[153,9.3],[166,10.9],[174,8.6],[183,9.9],[203,10.1],[213,12.1],[226,10.3],
  [237,11.1]
];

const panels = [
  { core: sgpObsCore, pts: sgpObsPts, coreSize: 8 },
  { core: amzObsCore, pts: amzObsPts, coreSize: 5 },
  { core: sgpEamCore, pts: sgpEamPts, coreSize: 8 },
  { core: amzEamCore, pts: amzEamPts, coreSize: 5 },
  { core: sgpStoCore, pts: sgpStoPts, coreSize: 8 },
  { core: amzStoCore, pts: amzStoPts, coreSize: 5.5 },
];

const FONT = "'Liberation Sans', Arial, Helvetica, sans-serif";
const boxes = [
  { left: 63, top: 117 }, { left: 485, top: 117 },
  { left: 63, top: 526 }, { left: 485, top: 526 },
  { left: 63, top: 934 }, { left: 485, top: 934 },
];

const lineStyle = { color: "#000", width: 1.3 };
const tickStyle = { color: "#000", width: 1 };

function xAxisFor(gi, position, labelled) {
  return {
    gridIndex: gi,
    type: "value",
    position,
    min: capeRange[0],
    max: capeRange[1],
    interval: 100,
    axisLine: { show: true, onZero: false, lineStyle },
    axisTick: { show: true, inside: true, length: 6, lineStyle: tickStyle },
    minorTick: { show: true, splitNumber: 5, length: 3, lineStyle: tickStyle },
    splitLine: { show: false },
    axisLabel: { show: labelled, margin: 9, color: "#333", fontSize: 13, fontFamily: FONT },
    name: labelled ? "CAPE (J/kg)" : "",
    nameLocation: "middle",
    nameGap: 31,
    nameTextStyle: { fontSize: 17, color: "#222", fontFamily: FONT },
  };
}

function yAxisFor(gi, position, labelled) {
  return {
    gridIndex: gi,
    type: "value",
    position,
    min: precipRange[0],
    max: precipRange[1],
    interval: 10,
    axisLine: { show: true, onZero: false, lineStyle },
    axisTick: { show: true, inside: true, length: 6, lineStyle: tickStyle },
    minorTick: { show: true, splitNumber: 5, length: 3, lineStyle: tickStyle },
    splitLine: { show: false },
    axisLabel: { show: labelled, margin: 8, color: "#333", fontSize: 13, fontFamily: FONT },
    name: labelled ? "{t|Total Precipitation (mm day}{s|-1}{t|)}" : "",
    nameLocation: "middle",
    nameGap: 32,
    nameTextStyle: {
      fontFamily: FONT,
      rich: {
        t: { fontSize: 16, color: "#222", fontFamily: FONT, lineHeight: 20 },
        s: { fontSize: 9, color: "#222", fontFamily: FONT, lineHeight: 20, verticalAlign: "top" },
      },
    },
  };
}

const grid = [], xAxis = [], yAxis = [], series = [], title = [];
panels.forEach((p, i) => {
  grid.push({ left: boxes[i].left, top: boxes[i].top, width: 311, height: 311 });
  xAxis.push(xAxisFor(i, "bottom", true), xAxisFor(i, "top", false));
  yAxis.push(yAxisFor(i, "left", true), yAxisFor(i, "right", false));
  const base = { type: "scatter", xAxisIndex: i * 2, yAxisIndex: i * 2, clip: true, silent: true,
                 itemStyle: { color: "#000", opacity: 1 } };
  series.push({ ...base, data: p.core, symbolSize: p.coreSize });
  series.push({ ...base, data: p.pts, symbolSize: 3.6 });
  title.push({
    text: panelTitles[i], left: boxes[i].left - 1, top: boxes[i].top - 26, padding: 0,
    textStyle: { fontSize: 20, fontWeight: "normal", color: "#222", fontFamily: FONT },
  });
});
columnTitles.forEach((t, c) => {
  title.push({
    text: t, left: boxes[c].left + 155, top: 15, padding: 0, textAlign: "center",
    textStyle: { fontSize: 35, fontWeight: "bold", color: "#1a1a1a", fontFamily: FONT },
  });
});

const chart = echarts.init(document.getElementById("chart"), null, { renderer: "canvas" });
chart.setOption({
  animation: false,
  backgroundColor: "#fff",
  title,
  grid,
  xAxis,
  yAxis,
  series,
  graphic: [{
    type: "text", left: -4, top: -19,
    style: {
      text: "ations. Fig. R7 has been included in the revision as new Fig. 1",
      font: "32.5px 'Liberation Serif', 'Times New Roman', serif",
      fill: "#000",
    },
  }],
});
</script>
</body>
</html>
